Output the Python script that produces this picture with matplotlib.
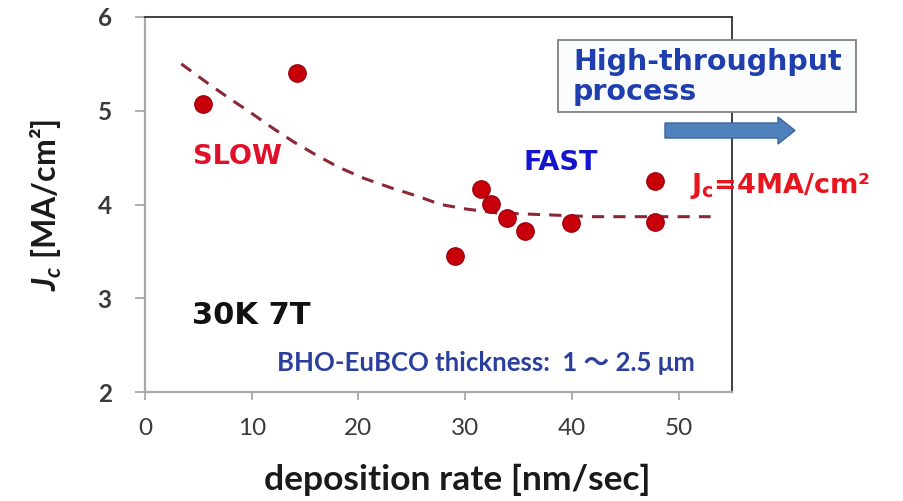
import matplotlib
matplotlib.use("Agg")
import matplotlib.pyplot as plt
from matplotlib.patches import Rectangle, FancyArrow

# Measured critical current density vs deposition rate
rate = [5.4, 14.2, 29.0, 31.5, 32.4, 33.9, 35.6, 39.9, 47.8, 47.8]
jc = [5.07, 5.40, 3.45, 4.17, 4.01, 3.86, 3.72, 3.80, 4.25, 3.81]

# Guide-to-the-eye trend curve
trend_x = [3.4, 5.8, 7.8, 9.9, 11.9, 13.9, 16.0, 18.1, 20.5, 23.0, 25.5,
           27.7, 30.2, 33.0, 37.7, 42.0, 47.0, 53.0]
trend_y = [5.50, 5.30, 5.14, 4.98, 4.82, 4.67, 4.53, 4.40, 4.28, 4.18, 4.09,
           4.00, 3.95, 3.91, 3.89, 3.87, 3.87, 3.87]

xticks = [0, 10, 20, 30, 40, 50]
yticks = [2, 3, 4, 5, 6]

plt.rcParams['mathtext.fontset'] = 'custom'
plt.rcParams['mathtext.it'] = 'Lato:italic:bold'
plt.rcParams['mathtext.rm'] = 'DejaVu Sans:bold'
plt.rcParams['mathtext.bf'] = 'DejaVu Sans:bold'

fig = plt.figure(figsize=(9.04, 5.01), dpi=100)
ax = fig.add_axes([145/904, 1-392/501, (732-145)/904, (392-17)/501])

ax.plot(trend_x, trend_y, color='#8b2838', lw=2.2, dashes=(4, 3), zorder=2)
ax.plot(rate, jc, 'o', ms=12.5, mfc='#c8000a', mec='#a00010', mew=1.0,
        zorder=3, ls='none')

ax.set_xlim(0, 55)
ax.set_ylim(2, 6)
ax.set_xticks(xticks)
ax.set_yticks(yticks)
ax.set_xticklabels([str(v) for v in xticks], fontfamily='Lato', fontsize=17.5,
                   color='#3a3a3a')
ax.set_yticklabels([str(v) for v in yticks], fontfamily='Lato', fontsize=17.5,
                   fontweight='bold', color='#3a3a3a')
ax.tick_params(axis='x', direction='out', length=6, width=1.2,
               color='#a0a0a0', pad=13)
ax.tick_params(axis='y', direction='out', length=7, width=1.2,
               color='#a0a0a0', pad=17)

for side in ('left', 'bottom'):
    ax.spines[side].set_color('#a8a8a8')
    ax.spines[side].set_linewidth(1.6)
for side in ('top', 'right'):
    ax.spines[side].set_color('#303030')
    ax.spines[side].set_linewidth(1.3)

ax.set_xlabel('deposition rate [nm/sec]', fontfamily='Lato', fontweight='bold',
              fontsize=25.5, color='#1a1a1a')
ax.xaxis.set_label_coords(0.532, -0.235)
ax.xaxis.label.set_va('center')
ax.set_ylabel(r'$J_c$ [MA/cm²]', fontfamily='Lato', fontweight='bold',
              fontsize=23, color='#1a1a1a', labelpad=24)

ax.text(8.7, 4.51, 'SLOW', color='#e0102a', fontsize=19.5,
        fontweight='bold', ha='center', va='center')
ax.text(39.0, 4.44, 'FAST', color='#1414cc', fontsize=19.5,
        fontweight='bold', ha='center', va='center')
ax.text(10.0, 2.82, '30K 7T', color='#111111', fontsize=22,
        fontweight='bold', ha='center', va='center')
ax.text(12.4, 2.31, 'BHO-EuBCO thickness:  1 ～ 2.5 μm',
        family=['Lato', 'Noto Sans CJK JP', 'DejaVu Sans'],
        color='#2b3f9e', fontsize=18.5, fontweight='bold',
        ha='left', va='center')

# High-throughput callout
fig.patches.append(Rectangle((558/904, 1-112/501), (856-558)/904, 72/501,
                             transform=fig.transFigure, facecolor='#fbfcfe',
                             edgecolor='#7f7f7f', lw=1.3, zorder=5))
fig.text(573/904, 1-62/501, 'High-throughput', color='#1f3fae',
         fontsize=20.5, fontweight='bold', ha='left', va='center', zorder=6)
fig.text(573/904, 1-92/501, 'process', color='#1f3fae',
         fontsize=20.5, fontweight='bold', ha='left', va='center', zorder=6)
fig.patches.append(FancyArrow(665/904, 1-130.5/501, (795-665)/904, 0,
                              width=15/501, head_width=27/501,
                              head_length=17/904, length_includes_head=True,
                              transform=fig.transFigure, facecolor='#4f81bd',
                              edgecolor='#3a6598', lw=1.0, zorder=5))

fig.text(690/904, 1-186/501, r'$\mathrm{J_c}$=4MA/cm²', color='#e8141e',
         fontsize=19.5, fontweight='bold', ha='left', va='center', zorder=6)

fig.savefig('out.png', dpi=100, facecolor='white')
